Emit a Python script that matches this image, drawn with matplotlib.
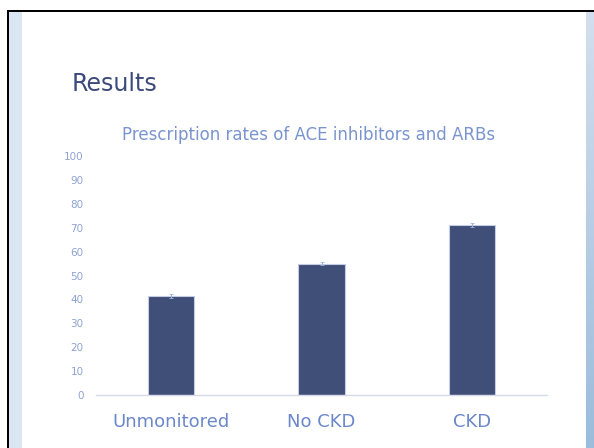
import matplotlib
matplotlib.use("Agg")
import matplotlib.pyplot as plt
import numpy as np
from matplotlib.patches import Rectangle

# prescription rates (%) with error
groups = ["Unmonitored", "No CKD", "CKD"]
rates = [41.4, 55.0, 71.3]
errors = [1.0, 0.8, 0.8]
yticks = [0, 10, 20, 30, 40, 50, 60, 70, 80, 90, 100]

W, H = 594, 448
fig = plt.figure(figsize=(W / 100, H / 100), dpi=100)
fig.patch.set_facecolor("white")

# slide frame: black border plus light blue side strips
fig.patches.append(Rectangle((9 / W, 0), 13 / W, (H - 12) / H, transform=fig.transFigure,
                             facecolor="#dbe6f3", edgecolor="none", zorder=0))
fig.patches.append(Rectangle((7 / W, 0), 2 / W, (H - 10) / H, transform=fig.transFigure,
                             facecolor="black", edgecolor="none", zorder=1))
fig.patches.append(Rectangle((7 / W, (H - 12) / H), (W - 7) / W, 2 / H, transform=fig.transFigure,
                             facecolor="black", edgecolor="none", zorder=1))

# right strip with vertical gradient
side = fig.add_axes([586 / W, 0, 8 / W, (H - 12) / H])
grad = np.linspace(0, 1, 256).reshape(-1, 1)
cmap = matplotlib.colors.LinearSegmentedColormap.from_list("strip", ["#d3dfee", "#9bbcdc"])
side.imshow(grad, aspect="auto", cmap=cmap, origin="upper")
side.axis("off")

fig.text(72 / W, 1 - 84 / H, "Results", fontsize=17, color="#3b4a7a", va="center", ha="left")
fig.text(309 / W, 1 - 135 / H, "Prescription rates of ACE inhibitors and ARBs",
         fontsize=12, color="#7a94cf", va="center", ha="center")

ax = fig.add_axes([96 / W, 53 / H, 451 / W, 239 / H])
x = np.arange(len(groups))
ax.bar(x, rates, width=0.31, color="#404f78", edgecolor="#c5cde6", linewidth=0.8, zorder=2)
ax.errorbar(x, rates, yerr=errors, fmt="none", ecolor="#a3b2da", elinewidth=0.8,
            capsize=1.5, capthick=0.6, zorder=3)

ax.set_xlim(-0.5, 2.5)
ax.set_ylim(0, 100)
ax.set_yticks(yticks)
ax.set_yticklabels([str(v) for v in yticks], fontsize=7.5, color="#8ea2d2")
ax.set_xticks(x)
ax.set_xticklabels(groups, fontsize=13, color="#6b87c9")
ax.tick_params(axis="y", length=0, pad=9)
ax.tick_params(axis="x", length=0, pad=13)
for s in ["top", "right", "left"]:
    ax.spines[s].set_visible(False)
ax.spines["bottom"].set_color("#d6dae6")
ax.spines["bottom"].set_linewidth(1.0)
ax.set_facecolor("none")

fig.savefig("out.png", dpi=100)
